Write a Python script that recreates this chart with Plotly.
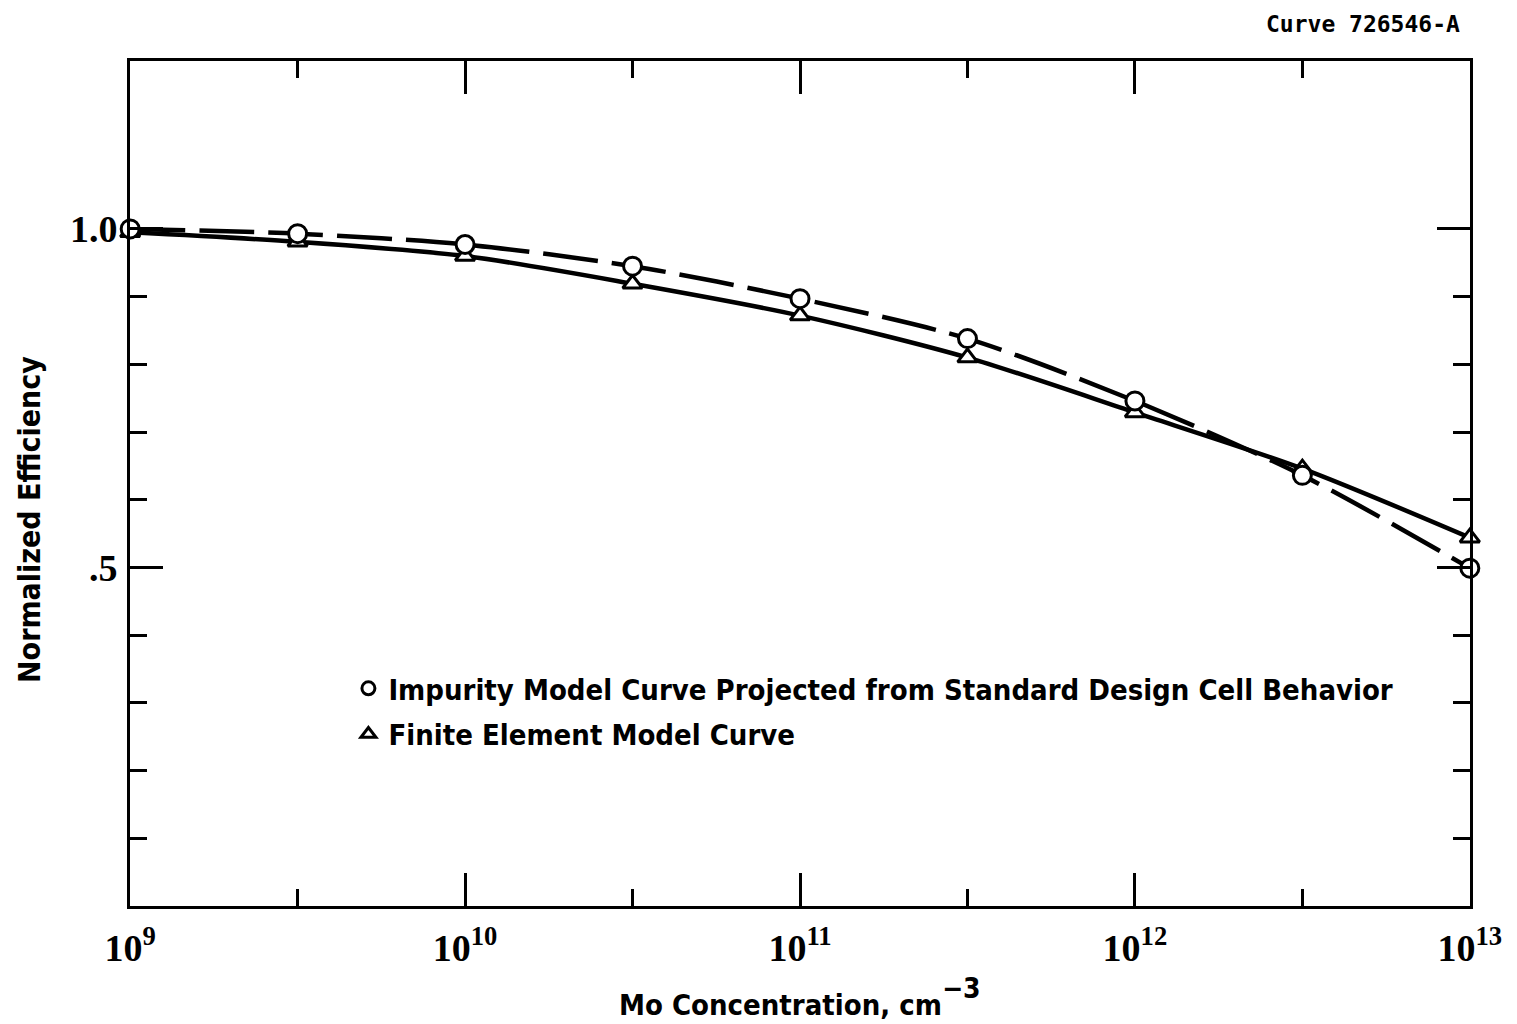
import plotly.graph_objects as go

# Data
concentration = [1e9, 10**9.5, 1e10, 10**10.5, 1e11, 10**11.5, 1e12, 10**12.5, 1e13]
impurity_model = [1.000, 0.993, 0.977, 0.945, 0.897, 0.838, 0.746, 0.636, 0.499]
finite_element = [0.995, 0.981, 0.960, 0.919, 0.872, 0.810, 0.729, 0.646, 0.544]

x_major = [1e9, 1e10, 1e11, 1e12, 1e13]
x_major_labels = ["10<sup>9</sup>", "10<sup>10</sup>", "10<sup>11</sup>", "10<sup>12</sup>", "10<sup>13</sup>"]
x_minor = [10**9.5, 10**10.5, 10**11.5, 10**12.5]
y_major = [0.5, 1.0]
y_major_labels = [".5", "1.0"]
y_minor = [0.1, 0.2, 0.3, 0.4, 0.6, 0.7, 0.8, 0.9]

legend_labels = ["Impurity Model Curve Projected from Standard Design Cell Behavior",
                 "Finite Element Model Curve"]

fig = go.Figure()

fig.add_trace(go.Scatter(
    x=concentration, y=finite_element, mode="lines+markers", cliponaxis=False,
    line=dict(color="black", width=4.5, shape="spline", smoothing=0.8),
    marker=dict(symbol="triangle-up", size=17, color="white", line=dict(color="black", width=3)),
    showlegend=False,
))
fig.add_trace(go.Scatter(
    x=concentration, y=impurity_model, mode="lines+markers", cliponaxis=False,
    line=dict(color="black", width=4.5, dash="55px,14px", shape="spline", smoothing=0.8),
    marker=dict(symbol="circle", size=18, color="white", line=dict(color="black", width=3)),
    showlegend=False,
))

# legend entries (marker only)
fig.add_trace(go.Scatter(
    x=[None], y=[None], mode="markers", name=legend_labels[0], legendgroup="a",
    marker=dict(symbol="circle-open", size=13, color="black", line=dict(color="black", width=3)),
))
fig.add_trace(go.Scatter(
    x=[None], y=[None], mode="markers", name=legend_labels[1], legendgroup="b",
    marker=dict(symbol="triangle-up-open", size=13, color="black", line=dict(color="black", width=3)),
))

tick_font = dict(family="Liberation Serif", size=38, color="black", weight="bold")
title_font_family = "DejaVu Sans Condensed"

fig.update_layout(
    width=1517, height=1024,
    paper_bgcolor="white", plot_bgcolor="white",
    margin=dict(l=130, r=47, t=61, b=118),
    showlegend=True,
    legend=dict(
        x=0.163, y=0.2876, xanchor="left", yanchor="top",
        bgcolor="rgba(0,0,0,0)", borderwidth=0,
        font=dict(family=title_font_family, size=29, color="black", weight="bold"),
        itemwidth=30, tracegroupgap=5, traceorder="grouped",
    ),
    xaxis=dict(
        type="log", range=[8.9995, 13.0005],
        showgrid=False, zeroline=False,
        showline=True, linecolor="black", linewidth=3, mirror="ticks",
        ticks="inside", ticklen=33, tickwidth=3, tickcolor="black",
        tickmode="array", tickvals=x_major, ticktext=x_major_labels,
        tickfont=tick_font, ticklabelstandoff=6,
        minor=dict(ticks="inside", tickmode="array", tickvals=x_minor, ticklen=17,
                   tickwidth=3, tickcolor="black", showgrid=False),
    ),
    yaxis=dict(
        range=[0, 1.248],
        showgrid=False, zeroline=False,
        showline=True, linecolor="black", linewidth=3, mirror="ticks",
        ticks="inside", ticklen=33, tickwidth=3, tickcolor="black",
        tickmode="array", tickvals=y_major, ticktext=y_major_labels,
        tickfont=tick_font, ticklabelstandoff=2,
        minor=dict(ticks="inside", tickmode="array", tickvals=y_minor, ticklen=17,
                   tickwidth=3, tickcolor="black", showgrid=False),
    ),
    annotations=[
        dict(text="Curve 726546-A", xref="paper", yref="paper", x=(1462-130)/1340, y=1 + (61-24)/845,
             xanchor="right", yanchor="middle", showarrow=False,
             font=dict(family="DejaVu Sans Mono", size=23, color="black", weight="bold")),
        dict(text="Normalized Efficiency", xref="paper", yref="paper",
             x=(29-130)/1340, y=(906-520)/845, xanchor="center", yanchor="middle",
             textangle=-90, showarrow=False,
             font=dict(family=title_font_family, size=30, color="black", weight="bold")),
        dict(text="Mo Concentration, cm<span style='font-size:40px'><sup>−3</sup></span>",
             xref="paper", yref="paper",
             x=0.5, y=-(997-906)/845, xanchor="center", yanchor="middle",
             showarrow=False,
             font=dict(family=title_font_family, size=29, color="black", weight="bold")),
    ],
)

fig.write_html("out.html")
